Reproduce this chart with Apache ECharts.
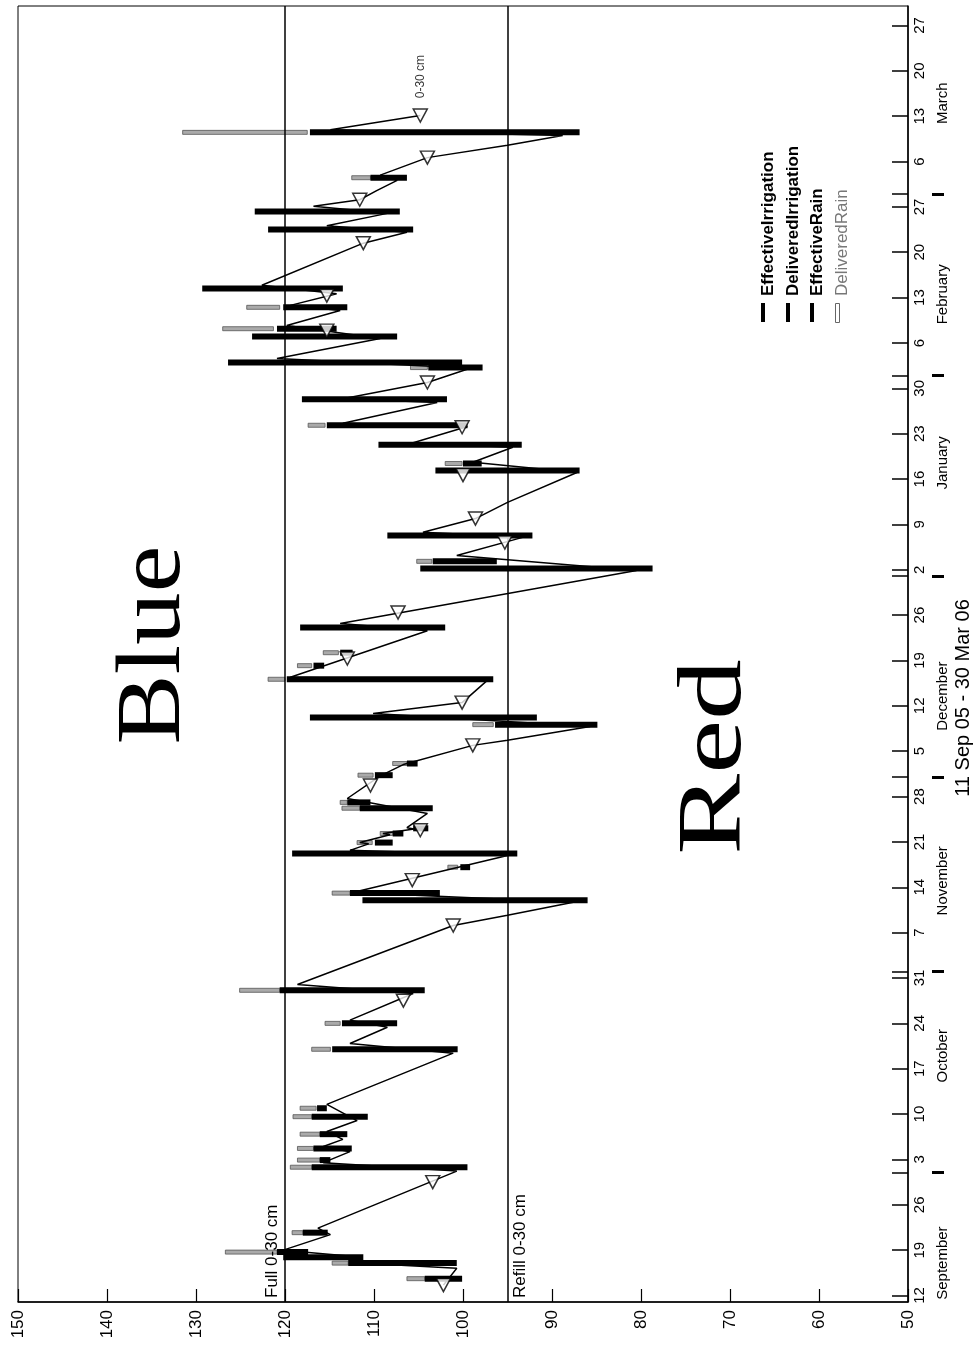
<!DOCTYPE html>
<html>
<head>
<meta charset="utf-8">
<script src="https://cdn.jsdelivr.net/npm/echarts/dist/echarts.min.js"></script>
<style>
html,body{margin:0;padding:0;background:#fff;}
#chart{width:976px;height:1353px;}
</style>
</head>
<body>
<div id="chart"></div>
<script>
// Day 0 = 11 Sep 2005, day 200 = 30 Mar 2006. Values = soil moisture 0-30 cm.
const soilMoisture = [
  [2.6,102.2],[5.2,100.7],[6.1,112.7],[6.9,111.3],[8.0,120.2],[10.4,114.9],[11.4,116.3],
  [20.2,100.7],[21.5,115.7],[23.2,112.7],[24.0,115.7],[25.1,113.5],[26.3,115.3],[28.0,111.9],
  [30.5,115.3],[38.4,101.1],[39.9,112.7],[42.4,108.5],[43.5,112.7],[47.6,105.6],[49.0,118.6],
  [58.1,101.1],[59.7,95.0],[61.7,87.6],[63.2,112.4],[68.9,95.0],[69.7,112.7],[70.7,110.6],[70.9,111.6],[72.1,108.2],
  [72.3,109.0],[73.0,105.5],[73.2,106.3],[75.4,104.0],[77.7,113.0],[81.2,109.3],[83.0,106.6],
  [85.9,98.9],[86.7,95.0],[88.8,85.7],[90.8,110.1],[92.5,100.1],[95.9,97.3],[96.4,119.4],[103.6,104.0],
  [104.7,113.8],[112.9,80.5],[115.2,100.7],[118.0,93.3],[118.8,104.5],[120.9,98.6],[123.4,95.0],[128.0,87.2],[129.6,98.9],
  [131.9,94.4],[132.6,105.6],[135.1,99.5],[135.6,113.5],[138.8,102.9],[139.4,113.5],[141.9,104.0],[144.1,99.2],
  [145.6,120.9],[148.7,109.3],[150.7,119.8],[153.0,113.8],[153.8,119.4],[155.6,114.2],[156.9,122.6],
  [163.4,111.2],[165.1,106.3],[166.1,115.3],[168.0,108.5],[169.1,116.8],[170.1,111.6],[171.5,109.7],[173.1,107.4],[173.9,109.3],
  [176.6,104.0],[178.5,95.0],[180.0,88.8],
  [180.9,114.9],[183.1,104.8]
];
const markers = [
  [2.6,102.2],[18.5,103.4],[46.5,106.7],[58.1,101.1],[65.1,105.7],[72.8,104.8],[79.7,110.4],
  [85.9,98.9],[92.5,100.1],[99.3,113.0],[106.4,107.3],[117.2,95.3],[120.9,98.6],[127.6,100.0],
  [135.0,100.1],[141.9,104.0],[149.9,115.3],[155.3,115.3],[163.4,111.2],[170.1,111.6],[176.6,104.0],
  [183.1,104.8]
];
// [day, from value, to value]
const effectiveIrrigation = [
  [180.5,117.2,86.9],[168.3,123.4,107.1],[165.5,121.9,105.6],[156.4,129.3,113.5],[149.0,123.7,107.4],
  [145.0,126.4,100.1],[139.3,118.1,101.8],[135.3,115.3,99.5],[132.3,109.5,93.4],[128.3,103.1,86.9],
  [118.3,108.5,92.2],[113.2,104.8,78.7],[104.1,118.3,102.0],[96.1,119.8,96.6],[90.2,117.2,91.7],
  [69.2,119.2,93.9],[62.0,111.3,86.0],[48.1,120.6,104.3],[39.0,114.7,100.6],[20.8,117.0,99.5],
  [6.9,120.2,111.2],[6.0,112.9,100.7]
];
const deliveredIrrigation = [
  [144.2,103.9,97.8],[89.1,96.4,84.9],[114.3,103.4,96.2],[63.1,112.7,102.6],[76.2,111.6,103.4],
  [28.6,117.0,110.7]
];
const effectiveRain = [
  [173.5,110.4,106.3],[153.5,120.2,113.0],[150.2,120.9,114.2],[129.4,100.0,97.9],[100.2,113.8,112.4],
  [98.2,116.8,115.6],[83.1,106.3,105.1],[81.3,109.9,107.9],[77.1,113.0,110.4],[73.1,105.6,103.9],
  [72.3,107.9,106.7],[70.9,109.9,107.9],[67.1,100.3,99.2],[43.0,113.6,107.4],[29.9,116.4,115.3],
  [25.9,116.1,113.0],[23.7,116.8,112.5],[21.9,116.1,114.9],[10.7,118.0,115.2],[7.7,120.9,117.4],
  [3.6,104.3,100.1]
];
const deliveredRain = [
  [180.5,131.5,117.5],[173.5,112.5,110.4],[153.5,124.3,120.6],[150.2,127.0,121.3],[144.2,105.9,104.0],
  [135.3,117.4,115.5],[129.4,102.0,100.1],[114.3,105.2,103.5],[100.2,115.7,114.0],[98.2,118.6,117.0],
  [96.1,121.9,120.0],[89.1,98.9,96.6],[83.1,107.9,106.3],[81.3,111.8,110.1],[77.1,113.8,113.0],
  [76.2,113.6,111.6],[72.3,109.3,107.9],[70.9,111.9,110.2],[67.1,101.7,100.6],[63.1,114.7,112.7],
  [48.1,125.1,120.6],[43.0,115.5,113.8],[39.0,117.0,114.9],[29.9,118.3,116.5],[28.6,119.1,117.0],
  [25.9,118.3,116.1],[23.7,118.6,116.8],[21.9,118.6,116.1],[20.8,119.4,117.0],[10.7,119.2,118.0],
  [7.7,126.7,120.9],[6.0,114.7,112.9],[3.6,106.3,104.3]
];
const fullPoint = 120;
const refillPoint = 95;
const weekDays = [1,8,15,22,29,36,43,50,57,64,71,78,85,92,99,106,113,120,127,134,141,148,155,162,169,176,183,190,197];
const weekLabels = ['12','19','26','3','10','17','24','31','7','14','21','28','5','12','19','26','2','9','16','23','30','6','13','20','27','6','13','20','27'];
const monthStartDays = [20,51,81,112,143,171];
const monthLabelDays = [6,38,65,93.5,129.5,155.5,185];
const monthNames = ['September','October','November','December','January','February','March'];
const seriesNames = ['EffectiveIrrigation','DeliveredIrrigation','EffectiveRain','DeliveredRain'];
const periodTitle = '11 Sep 05 - 30 Mar 06';

const chart = echarts.init(document.getElementById('chart'), null, {renderer:'canvas'});
const FONT = 'Liberation Sans, Arial, sans-serif';
const SERIF = '"Liberation Serif", "Times New Roman", serif';

function barSeries(name, data, style, h) {
  return {
    type: 'custom', name: name, data: data, z: 3, animation: false,
    encode: {x: [1, 2], y: 0},
    renderItem: function (params, api) {
      const p1 = api.coord([api.value(1), api.value(0)]);
      const p2 = api.coord([api.value(2), api.value(0)]);
      const x = Math.min(p1[0], p2[0]);
      const w = Math.abs(p2[0] - p1[0]);
      return {type: 'rect', shape: {x: x, y: p1[1] - h / 2, width: w, height: h}, style: style};
    }
  };
}

const legendGraphics = [];
const legX = [763, 788, 812, 837];
seriesNames.forEach(function (n, i) {
  const rain = i === 3;
  legendGraphics.push({
    type: 'rect', left: legX[i] - 2, top: 303,
    shape: {width: 4, height: 19},
    style: rain ? {fill: '#fff', stroke: '#666', lineWidth: 1} : {fill: '#000'}
  });
  legendGraphics.push({
    type: 'text', x: legX[i] + 5, y: 296, rotation: Math.PI / 2,
    style: {text: n, fill: rain ? '#777' : '#000', font: (rain ? '' : 'bold ') + '17px ' + FONT,
            textAlign: 'left', textVerticalAlign: 'middle'}
  });
});

const option = {
  animation: false,
  backgroundColor: '#fff',
  grid: {left: 18, right: 68, top: 6, bottom: 51, show: true, borderColor: '#000', borderWidth: 1, backgroundColor: 'transparent'},
  xAxis: {
    type: 'value', min: 50, max: 150, interval: 10, inverse: true, position: 'bottom',
    axisLine: {show: true, onZero: false, lineStyle: {color: '#000', width: 1.5}},
    axisTick: {show: true, inside: true, length: 13, lineStyle: {color: '#000', width: 1.2}},
    axisLabel: {rotate: 90, color: '#000', fontSize: 17, fontFamily: FONT, margin: 8},
    splitLine: {show: false}
  },
  yAxis: [{
    type: 'value', min: 0, max: 200, position: 'right',
    axisLine: {show: true, onZero: false, lineStyle: {color: '#000', width: 1.5}},
    axisTick: {show: true, inside: true, length: 16, customValues: weekDays.concat(monthStartDays),
               lineStyle: {color: '#000', width: 1.5}},
    axisLabel: {customValues: weekDays, rotate: 90, color: '#000', fontSize: 15, fontFamily: FONT, margin: 4,
                formatter: function (v) { const i = weekDays.indexOf(v); return i >= 0 ? weekLabels[i] : ''; }},
    splitLine: {show: false}
  }, {
    type: 'value', min: 0, max: 200, position: 'right', offset: 24,
    axisLine: {show: false},
    axisTick: {show: true, inside: false, length: 12, customValues: monthStartDays,
               lineStyle: {color: '#000', width: 3}},
    axisLabel: {customValues: monthLabelDays, rotate: 90, color: '#000', fontSize: 15, fontFamily: FONT, margin: 3,
                formatter: function (v) { const i = monthLabelDays.indexOf(v); return i >= 0 ? monthNames[i] : ''; }},
    splitLine: {show: false}
  }],
  graphic: [
    {type: 'text', x: 155, y: 645, rotation: Math.PI / 2, scaleX: 1.17,
     style: {text: 'Blue', fill: '#000', font: '90px ' + SERIF, textAlign: 'center', textVerticalAlign: 'middle'}},
    {type: 'text', x: 716, y: 757, rotation: Math.PI / 2, scaleX: 1.35,
     style: {text: 'Red', fill: '#000', font: '90px ' + SERIF, textAlign: 'center', textVerticalAlign: 'middle'}},
    {type: 'text', x: 963, y: 698, rotation: Math.PI / 2,
     style: {text: periodTitle, fill: '#000', font: '20px ' + FONT, textAlign: 'center', textVerticalAlign: 'middle'}}
  ].concat(legendGraphics),
  series: [
    barSeries(seriesNames[3], deliveredRain, {fill: '#aaa', stroke: '#555', lineWidth: 0.8}, 4),
    barSeries(seriesNames[0], effectiveIrrigation, {fill: '#000'}, 6),
    barSeries(seriesNames[1], deliveredIrrigation, {fill: '#000'}, 6),
    barSeries(seriesNames[2], effectiveRain, {fill: '#000'}, 6),
    {
      type: 'line', name: 'Soil moisture 0-30 cm', z: 4,
      data: soilMoisture.map(function (p) { return [p[1], p[0]]; }),
      showSymbol: false, lineStyle: {color: '#000', width: 1.5},
      markLine: {
        silent: true, symbol: 'none', animation: false,
        lineStyle: {color: '#000', width: 1.5, type: 'solid'},
        label: {color: '#000', fontSize: 17, fontFamily: FONT, distance: 4},
        data: [
          {xAxis: fullPoint, label: {formatter: 'Full 0-30 cm', position: 'insideStartTop'}},
          {xAxis: refillPoint, label: {formatter: 'Refill 0-30 cm', position: 'insideStartBottom'}}
        ]
      }
    },
    {
      type: 'scatter', name: 'markers', z: 5,
      symbol: 'triangle', symbolRotate: 180, symbolSize: [14, 13],
      itemStyle: {color: '#fff', borderColor: '#000', borderWidth: 1.5},
      data: markers.map(function (p, i) {
        const item = {value: [p[1], p[0]]};
        if (i === markers.length - 1) {
          item.label = {show: true, formatter: '0-30 cm', position: 'top', distance: 10, rotate: 90,
                        align: 'left', verticalAlign: 'middle', color: '#000', fontSize: 12, fontFamily: FONT};
        }
        return item;
      })
    }
  ]
};
chart.setOption(option);
</script>
</body>
</html>
